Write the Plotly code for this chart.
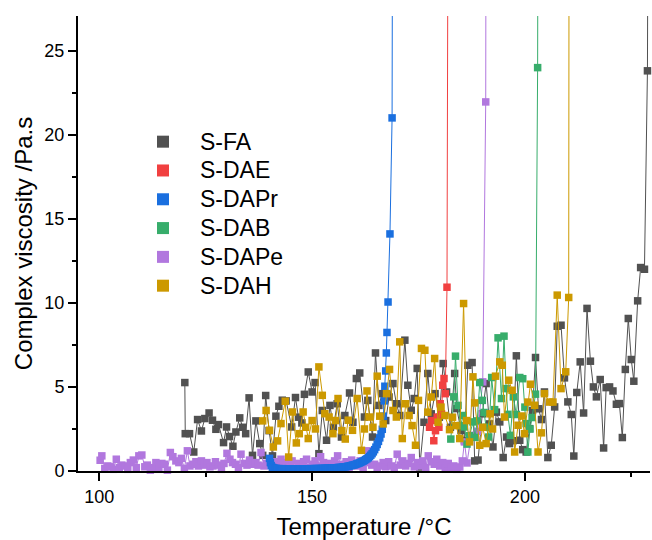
import plotly.graph_objects as go

# Complex viscosity vs temperature for the six samples
fa_t = [120.1, 120.2, 121.2, 122.2, 123.1, 124.0, 124.8, 125.8, 126.6, 127.4, 128.0, 129.2, 129.9, 130.6,
        131.4, 132.1, 133.0, 133.7, 134.4, 135.2, 136.0, 136.8, 137.7, 138.4, 139.1, 139.9, 140.7, 141.5,
        142.2, 143.0, 143.9, 145.2, 146.1, 146.8, 147.6, 148.2, 149.1, 150.0, 150.7, 151.6, 152.4, 153.4,
        154.2, 155.0, 155.9, 156.9, 157.7, 158.8, 159.6, 160.4, 161.2, 162.3, 163.1, 164.2, 164.9, 165.7,
        166.5, 167.3, 168.1, 169.0, 169.8, 170.6, 171.8, 172.5, 173.3, 174.0, 174.7, 175.3, 176.3, 177.2,
        178.0, 178.9, 179.9, 180.8, 181.6, 182.5, 183.5, 184.0, 185.0, 185.8, 186.6, 187.6, 188.2, 189.0,
        190.0, 190.9, 191.7, 192.5, 193.3, 194.1, 194.9, 195.7, 196.4, 197.2, 198.0, 198.8, 199.5, 200.3,
        201.1, 201.8, 202.5, 203.2, 203.9, 204.6, 205.4, 206.2, 207.0, 207.6, 208.5, 209.3, 210.1, 210.9,
        211.5, 212.2, 213.0, 213.8, 214.6, 215.4, 216.1, 216.8, 217.7, 218.5, 219.1, 219.9, 220.7, 221.5,
        222.2, 222.9, 223.6, 224.3, 225.0, 225.6, 226.5, 227.2, 228.1, 228.8, 229.0]
fa_eta = [5.26, 2.22, 2.22, 1.13, 3.06, 2.38, 3.12, 3.45, 3.02, 2.48, 2.76, 1.69, 2.62, 2.05,
          1.47, 2.32, 3.16, 2.60, 2.22, 4.35, 0.93, 2.98, 1.63, 0.93, 4.49, 2.40, 0.90, 3.26,
          3.85, 4.21, 4.17, 2.62, 4.37, 3.20, 2.86, 4.56, 5.89, 4.70, 5.26, 1.03, 3.60, 1.83,
          3.90, 2.60, 4.00, 2.02, 3.30, 4.64, 2.90, 5.50, 5.83, 3.21, 4.20, 2.02, 7.02, 3.90,
          4.60, 3.00, 4.40, 5.20, 4.00, 3.30, 7.78, 5.10, 3.61, 4.31, 6.10, 0.24, 2.90, 5.80,
          3.40, 4.60, 3.20, 6.39, 4.70, 2.60, 5.80, 3.71, 2.40, 1.80, 6.29, 6.45, 0.60, 0.65,
          3.40, 5.20, 2.80, 1.43, 3.50, 2.92, 0.80, 2.02, 1.63, 1.80, 6.85, 1.83, 1.27, 1.13,
          2.52, 3.60, 6.75, 3.70, 3.06, 4.70, 0.80, 1.53, 3.81, 8.61, 8.67, 5.54, 4.11, 3.36,
          0.89, 4.67, 6.49, 3.45, 9.67, 6.53, 5.00, 4.41, 5.44, 1.37, 4.96, 5.00, 4.76, 3.97,
          4.01, 1.99, 6.04, 9.07, 6.63, 5.34, 10.12, 12.10, 12.00, 23.80, 40.0]

dae_t = [177.6, 178.1, 178.6, 179.0, 179.4, 179.8, 180.1, 180.4, 180.7, 181.0, 181.3, 181.7, 182.0]
dae_eta = [2.60, 3.00, 1.80, 2.40, 3.20, 2.60, 4.00, 3.40, 5.10, 5.50, 4.60, 10.93, 40.0]

dapr_t = [140.0, 140.2, 140.4, 140.7, 141.0, 141.3, 141.6, 141.9, 142.2, 142.5, 142.8, 143.1, 143.4,
          143.7, 144.0, 144.3, 144.6, 144.9, 145.2, 145.5, 145.8, 146.1, 146.4, 146.7, 147.0, 147.3,
          147.6, 147.9, 148.2, 148.5, 148.8, 149.1, 149.4, 149.7, 150.0, 150.3, 150.6, 150.9, 151.2,
          151.5, 151.8, 152.1, 152.4, 152.7, 153.0, 153.3, 153.6, 153.9, 154.2, 154.5, 154.8, 155.1,
          155.4, 155.7, 156.0, 156.3, 156.6, 156.9, 157.2, 157.5, 157.8, 158.1, 158.4, 158.7, 159.0,
          159.3, 159.6, 159.9, 160.2, 160.5, 160.8, 161.1, 161.4, 161.7, 162.0, 162.3, 162.6, 162.9,
          163.2, 163.5, 163.8, 164.1, 164.4, 164.7, 165.0, 165.3, 165.6, 165.9, 166.2, 166.5, 166.75,
          166.95, 167.1, 167.3, 167.45, 167.6, 167.85, 168.3, 168.8, 168.95]
dapr_eta = [0.75, 0.50, 0.32, 0.22, 0.18, 0.16, 0.15, 0.14, 0.14, 0.13, 0.13, 0.14, 0.13,
            0.12, 0.13, 0.12, 0.12, 0.13, 0.12, 0.12, 0.13, 0.12, 0.12, 0.12, 0.13, 0.12,
            0.12, 0.13, 0.13, 0.12, 0.13, 0.13, 0.13, 0.14, 0.13, 0.14, 0.14, 0.14, 0.14,
            0.15, 0.14, 0.15, 0.15, 0.15, 0.16, 0.16, 0.16, 0.17, 0.17, 0.17, 0.18, 0.18,
            0.19, 0.19, 0.20, 0.21, 0.21, 0.22, 0.23, 0.24, 0.25, 0.26, 0.28, 0.29, 0.31,
            0.33, 0.35, 0.37, 0.39, 0.42, 0.45, 0.48, 0.51, 0.55, 0.59, 0.63, 0.68, 0.73,
            0.79, 0.86, 0.94, 1.03, 1.14, 1.27, 1.42, 1.58, 1.76, 1.97, 2.20, 2.48, 3.26,
            4.17, 5.04, 5.95, 7.02, 8.24, 10.05, 14.10, 21.00, 40.0]

dab_t = [182.6, 183.3, 183.7, 184.3, 184.9, 185.5, 185.8, 186.4, 187.0, 187.8, 188.3, 188.8, 189.4,
         190.0, 190.4, 190.9, 191.5, 192.2, 192.9, 193.7, 194.5, 195.1, 195.6, 196.0, 196.6, 197.3,
         198.0, 198.8, 199.5, 200.0, 200.3, 200.7, 201.2, 201.7, 202.5, 203.0, 203.1]
dab_eta = [1.90, 4.41, 6.83, 3.90, 2.70, 3.30, 2.62, 1.60, 2.10, 2.92, 2.00, 2.98, 5.26,
           4.20, 3.48, 2.60, 2.02, 5.56, 3.65, 7.92, 4.31, 8.02, 4.90, 3.37, 2.12, 4.41,
           3.36, 5.56, 5.49, 3.80, 2.82, 1.13, 2.50, 3.18, 4.57, 23.99, 40.0]

dape_t = [100.2, 100.6, 101.3, 102.0, 102.7, 103.3, 104.0, 104.7, 105.3, 106.0, 106.7, 107.3, 108.0,
          108.7, 109.3, 110.0, 110.7, 111.3, 112.0, 112.7, 113.3, 114.0, 114.7, 115.3, 116.0, 116.7,
          117.3, 118.0, 118.7, 119.3, 120.0, 120.7, 121.3, 122.0, 122.7, 123.3, 124.0, 124.7, 125.3,
          126.0, 126.7, 127.3, 128.0, 128.7, 129.3, 130.0, 130.7, 131.3, 132.0, 132.7, 133.3, 134.0,
          134.7, 135.3, 136.0, 136.7, 137.3, 138.0, 138.7, 139.3, 140.0, 140.7, 141.3, 142.0, 142.7,
          143.3, 144.0, 144.7, 145.3, 146.0, 146.7, 147.3, 148.0, 148.7, 149.3, 150.0, 150.7, 151.3,
          152.0, 152.7, 153.3, 154.0, 154.7, 155.3, 156.0, 156.7, 157.3, 158.0, 158.7, 159.3, 160.0,
          160.7, 161.3, 162.0, 162.7, 163.3, 164.0, 164.7, 165.3, 166.0, 166.7, 167.3, 168.0, 168.7,
          169.3, 170.0, 170.7, 171.3, 172.0, 172.7, 173.3, 174.0, 174.7, 175.3, 176.0, 176.7, 177.3,
          178.0, 178.7, 179.3, 180.0, 180.7, 181.3, 182.0, 182.7, 183.3, 184.0, 184.7, 185.3, 185.8,
          186.4, 187.4, 188.9, 190.1, 190.8, 190.9]
dape_eta = [0.64, 0.90, 0.15, 0.30, 0.25, 0.10, 0.70, 0.20, 0.35, 0.30, 0.10, 0.50, 0.65,
            0.20, 0.90, 0.95, 0.25, 0.35, 0.05, 0.20, 0.50, 0.10, 0.45, 0.40, 0.05, 1.10,
            0.85, 0.60, 0.50, 0.75, 0.15, 1.20, 0.30, 0.40, 0.55, 0.30, 0.60, 0.35, 0.50,
            0.25, 0.30, 0.55, 0.35, 0.10, 0.45, 1.05, 0.70, 0.50, 0.40, 0.20, 1.00, 0.45,
            0.35, 0.65, 0.40, 0.50, 0.35, 1.10, 0.30, 0.45, 0.50, 0.20, 0.55, 0.40, 0.70,
            0.25, 0.50, 0.35, 0.60, 0.15, 0.45, 0.30, 0.55, 0.70, 0.20, 0.40, 0.60, 0.30,
            0.85, 0.50, 0.20, 0.45, 0.35, 0.60, 0.90, 0.40, 0.30, 0.55, 0.20, 0.65, 0.45,
            0.30, 0.60, 0.20, 0.50, 1.20, 0.35, 0.40, 0.15, 0.30, 0.50, 0.25, 0.55, 0.30,
            0.20, 1.00, 0.35, 0.60, 0.30, 0.45, 0.80, 0.25, 0.50, 0.30, 0.60, 0.20, 0.90,
            0.55, 0.40, 0.70, 0.30, 0.50, 0.15, 0.45, 0.20, 0.30, 0.10, 0.24, 0.60, 1.73,
            0.48, 2.12, 2.36, 5.30, 21.95, 40.0]

dah_t = [138.4, 139.2, 140.0, 140.9, 141.9, 142.7, 143.7, 144.5, 145.4, 146.3, 147.0, 147.9, 148.5,
         149.1, 150.0, 150.8, 151.6, 152.4, 153.0, 154.0, 154.9, 155.5, 156.1, 157.0, 157.8, 158.5,
         159.5, 160.6, 161.6, 162.3, 162.9, 163.5, 164.3, 165.3, 165.9, 166.7, 167.5, 168.2, 169.0,
         169.8, 170.6, 171.2, 172.0, 172.8, 173.5, 174.3, 175.0, 175.7, 176.5, 177.2, 178.0, 178.8,
         179.6, 180.3, 181.2, 182.3, 183.0, 183.8, 184.7, 185.6, 186.3, 187.0, 187.8, 188.2, 189.4,
         190.1, 190.9, 191.8, 192.4, 193.1, 194.1, 194.7, 195.2, 196.2, 197.0, 197.6, 198.4, 199.3,
         199.9, 200.7, 201.3, 202.3, 203.1, 203.9, 204.6, 205.8, 206.6, 207.6, 208.5, 209.6, 210.3,
         210.4]
dah_eta = [2.98, 3.60, 2.42, 1.43, 1.79, 2.82, 4.15, 0.83, 3.51, 1.67, 2.22, 3.51, 2.60,
           1.93, 3.00, 2.50, 6.19, 4.50, 3.41, 3.21, 2.22, 3.00, 4.31, 2.40, 1.90, 3.02,
           2.42, 4.31, 1.23, 2.50, 4.76, 3.21, 2.60, 5.64, 3.26, 2.80, 4.60, 6.04, 3.60,
           3.21, 7.68, 1.93, 4.00, 3.30, 2.70, 1.53, 4.20, 7.29, 7.18, 3.50, 4.40, 6.69,
           2.90, 3.80, 3.30, 2.46, 3.20, 2.70, 1.93, 9.96, 3.00, 1.73, 5.60, 4.05, 1.53,
           2.60, 1.63, 3.40, 2.50, 5.64, 6.49, 6.29, 3.21, 5.40, 4.80, 1.13, 2.72, 3.27,
           2.22, 4.10, 5.16, 3.91, 1.13, 2.27, 4.60, 4.10, 4.10, 10.46, 4.90, 5.90, 10.32,
           40.0]

names = ["S-FA", "S-DAE", "S-DAPr", "S-DAB", "S-DAPe", "S-DAH"]
colors = ["#515151", "#F14040", "#1A6FDF", "#37AD6B", "#B177DE", "#CC9900"]
series = {
    "S-FA": (fa_t, fa_eta), "S-DAE": (dae_t, dae_eta), "S-DAPr": (dapr_t, dapr_eta),
    "S-DAB": (dab_t, dab_eta), "S-DAPe": (dape_t, dape_eta), "S-DAH": (dah_t, dah_eta),
}
color_of = dict(zip(names, colors))
draw_order = ["S-FA", "S-DAE", "S-DAPe", "S-DAPr", "S-DAB", "S-DAH"]

FONT = "Arial, Liberation Sans, sans-serif"

fig = go.Figure()
for name in draw_order:
    t, eta = series[name]
    c = color_of[name]
    fig.add_trace(go.Scatter(
        x=t, y=eta, mode="lines+markers", name=name, showlegend=False,
        cliponaxis=False,
        line=dict(color=c, width=1),
        marker=dict(symbol="square", size=7.5, color=c, line=dict(width=0)),
    ))

# key: square symbol + label for every sample, stacked in the upper left
key_x_sym = 0.1486
key_x_txt = 0.2098
key_y0 = 0.7238
key_step = 0.0633
shapes = []
annotations = []
for i, name in enumerate(names):
    yk = key_y0 - i * key_step
    shapes.append(dict(
        type="rect", xref="paper", yref="paper",
        xsizemode="pixel", ysizemode="pixel",
        xanchor=key_x_sym, yanchor=yk, x0=-6, x1=6, y0=-6, y1=6,
        fillcolor=color_of[name], line=dict(width=0),
    ))
    annotations.append(dict(
        text=name, xref="paper", yref="paper", x=key_x_txt, y=yk,
        xanchor="left", yanchor="middle", showarrow=False,
        font=dict(size=23, family=FONT, color="black"),
    ))

fig.update_layout(
    width=652, height=540, autosize=False,
    margin=dict(l=78, r=2, t=16, b=69),
    paper_bgcolor="white", plot_bgcolor="white",
    font=dict(family=FONT, color="black"),
    showlegend=False,
    shapes=shapes, annotations=annotations,
    xaxis=dict(
        range=[95.0, 229.4], tick0=100, dtick=50,
        showline=True, linecolor="black", linewidth=2,
        ticks="outside", ticklen=8, tickwidth=2, tickcolor="black",
        minor=dict(dtick=25, tick0=100, ticks="outside", ticklen=4, tickwidth=2, tickcolor="black"),
        showgrid=False, zeroline=False, mirror=False,
        tickfont=dict(size=18, family=FONT, color="black"),
        title=dict(text="Temperature /°C", font=dict(size=24, family=FONT, color="black"), standoff=14),
    ),
    yaxis=dict(
        range=[0, 27.06], tick0=0, dtick=5,
        showline=True, linecolor="black", linewidth=2,
        ticks="outside", ticklen=8, tickwidth=2, tickcolor="black",
        minor=dict(dtick=2.5, tick0=0, ticks="outside", ticklen=4, tickwidth=2, tickcolor="black"),
        showgrid=False, zeroline=False, mirror=False,
        tickfont=dict(size=18, family=FONT, color="black"),
        title=dict(text="Complex viscosity /Pa.s", font=dict(size=24, family=FONT, color="black"), standoff=5),
    ),
)

fig.write_html("out.html")
